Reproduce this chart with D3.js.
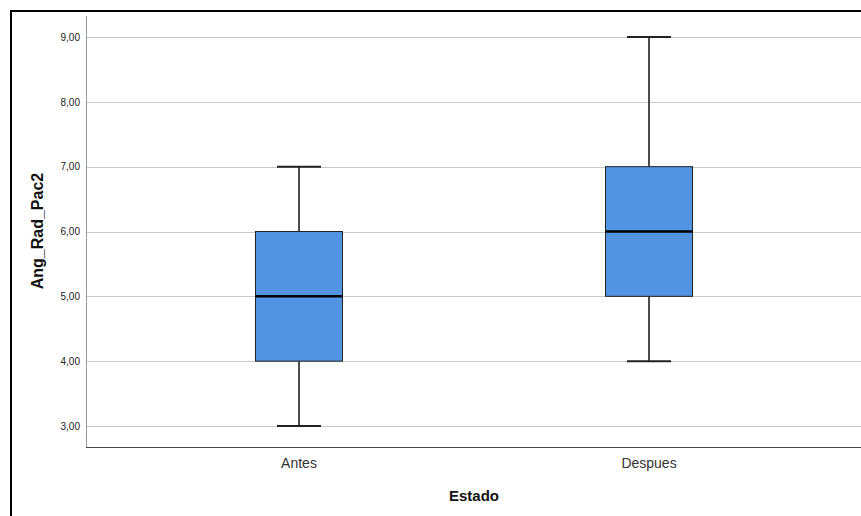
<!DOCTYPE html>
<html><head><meta charset="utf-8">
<script src="https://cdn.jsdelivr.net/npm/d3@7"></script>
<style>body{margin:0;background:#fff}svg{display:block}</style>
</head><body>
<svg id="c" width="861" height="516"></svg>
<script>
const categories = ["Antes", "Despues"];
const minVals = [3, 4];
const q1Vals = [4, 5];
const medianVals = [5, 6];
const q3Vals = [6, 7];
const maxVals = [7, 9];
const yTicks = [3, 4, 5, 6, 7, 8, 9];

(function () {
const svg = d3.select("#c");
const W = 861, H = 516;
svg.append("path").attr("d", `M11,${H} V11 H${W}`).attr("fill","none").attr("stroke","#000").attr("stroke-width",2);

const pLeft = 86, pRight = 861, pTop = 16, pBottom = 447;
const y = d3.scaleLinear().domain([3, 9]).range([426, 37]);
const x = d3.scaleBand().domain(categories).range([124, 824]).paddingInner(0).paddingOuter(0);
const boxW = 87, capW = 44;

svg.append("g").selectAll("line").data(yTicks).join("line")
  .attr("x1", pLeft).attr("x2", pRight)
  .attr("y1", d => Math.round(y(d)) + 0.5).attr("y2", d => Math.round(y(d)) + 0.5)
  .attr("stroke", "#c8c8c8").attr("stroke-width", 1);

const yAxis = d3.axisLeft(y).tickValues(yTicks).tickSize(0).tickPadding(6)
  .tickFormat(d => d3.format(".2f")(d).replace(".", ","));
const gy = svg.append("g").attr("transform", `translate(${pLeft},0)`).call(yAxis);
gy.select(".domain").remove();
gy.selectAll("text").attr("font-family", "Arial, 'Liberation Sans', sans-serif").attr("font-size", 10).attr("fill", "#222");
svg.append("line").attr("x1", pLeft + 0.5).attr("x2", pLeft + 0.5).attr("y1", pTop).attr("y2", pBottom)
  .attr("stroke", "#999").attr("stroke-width", 1);

const xAxis = d3.axisBottom(x).tickSize(0).tickPadding(11);
const gx = svg.append("g").attr("transform", `translate(0,${pBottom})`).call(xAxis);
gx.select(".domain").remove();
gx.selectAll("text").attr("font-family", "Arial, 'Liberation Sans', sans-serif").attr("font-size", 14).attr("fill", "#333");
svg.append("line").attr("x1", pLeft).attr("x2", pRight).attr("y1", pBottom + 0.5).attr("y2", pBottom + 0.5)
  .attr("stroke", "#444").attr("stroke-width", 1);

const data = categories.map((c, i) => ({c, min: minVals[i], q1: q1Vals[i], med: medianVals[i], q3: q3Vals[i], max: maxVals[i]}));
const g = svg.append("g");
data.forEach(d => {
  const cx = x(d.c) + x.bandwidth() / 2;
  g.append("line").attr("x1", cx).attr("x2", cx).attr("y1", y(d.max)).attr("y2", y(d.q3)).attr("stroke", "#111").attr("stroke-width", 1.5);
  g.append("line").attr("x1", cx).attr("x2", cx).attr("y1", y(d.q1)).attr("y2", y(d.min)).attr("stroke", "#111").attr("stroke-width", 1.5);
  [d.max, d.min].forEach(v => {
    g.append("line").attr("x1", cx - capW / 2).attr("x2", cx + capW / 2).attr("y1", y(v)).attr("y2", y(v)).attr("stroke", "#222").attr("stroke-width", 2);
  });
  g.append("rect").attr("x", cx - boxW / 2).attr("width", boxW).attr("y", y(d.q3)).attr("height", y(d.q1) - y(d.q3))
    .attr("fill", "#5294e2").attr("stroke", "#222").attr("stroke-width", 1);
  g.append("line").attr("x1", cx - boxW / 2).attr("x2", cx + boxW / 2).attr("y1", y(d.med)).attr("y2", y(d.med)).attr("stroke", "#000").attr("stroke-width", 2.5);
});

svg.append("text").attr("x", 474).attr("y", 501).attr("text-anchor", "middle")
  .attr("font-family", "Arial, 'Liberation Sans', sans-serif").attr("font-size", 15).attr("font-weight", "bold").attr("fill", "#111").text("Estado");
svg.append("text").attr("transform", "translate(43,231) rotate(-90)").attr("text-anchor", "middle")
  .attr("font-family", "Arial, 'Liberation Sans', sans-serif").attr("font-size", 16).attr("font-weight", "bold").attr("fill", "#111").text("Ang_Rad_Pac2");
})();
</script>
</body></html>
